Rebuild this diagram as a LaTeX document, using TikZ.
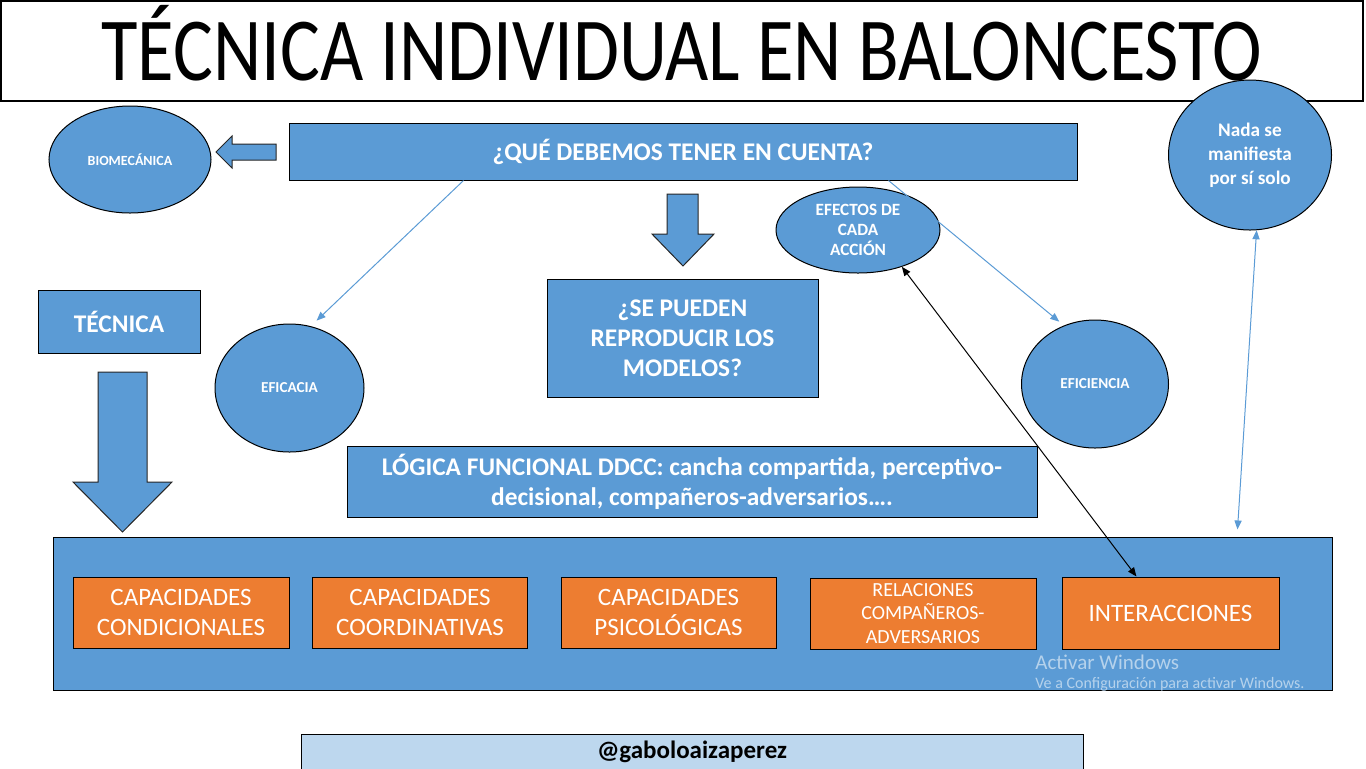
\documentclass[tikz,border=0pt]{standalone}
\usepackage{fontspec}
\setmainfont{Carlito}
\newfontfamily\titlefont{Carlito}[FakeStretch=0.83]
\usepackage{xcolor}
\definecolor{slideBlue}{HTML}{5B9BD5}
\definecolor{slideOrange}{HTML}{ED7D31}
\definecolor{paleBlue}{HTML}{BDD7EE}
\usepackage{tikz}
\usetikzlibrary{
    shapes.geometric,
    arrows.meta,
    positioning,
    calc
}
\tikzset{
    % Base style for the blue shapes
    blue base/.style={
        fill=slideBlue,
        draw=black,
        line width=0.5pt,
        text=white,
        align=center,
        inner sep=0pt,
        font=\bfseries\fontsize{12.7}{15}\selectfont,
    },
    % Blue rectangles
    bluebox/.style={
        blue base,
        rectangle,
    },
    % Blue ovals
    blueoval/.style={
        blue base,
        ellipse,
    },
    % Orange boxes inside the big panel
    orangebox/.style={
        rectangle,
        fill=slideOrange,
        draw=black,
        line width=0.5pt,
        text=white,
        align=center,
        inner sep=0pt,
        minimum height=35.5pt,
        font=\fontsize{12.5}{15}\selectfont,
    },
    % Title frame
    titlebox/.style={
        rectangle,
        draw=black,
        line width=0.6pt,
        inner sep=0pt,
        font=\titlefont\fontsize{45}{45}\selectfont,
        text height=29pt,
        text depth=0pt,
    },
    % Block arrows
    blockarrow/.style={
        fill=slideBlue,
        draw=black!85,
        line width=0.5pt,
        line join=miter,
    },
    % Thin connectors
    link/.style={
        -{Triangle[length=4.5pt, width=3.6pt]},
        draw=slideBlue,
        line width=0.5pt,
    },
    link both/.style={
        link,
        {Triangle[length=4.5pt, width=3.6pt]}-{Triangle[length=4.5pt, width=3.6pt]},
    },
    % Screen watermark
    watermark/.style={
        text=white!55!slideBlue,
        inner sep=0pt,
        anchor=west,
    },
}

\begin{document}
\begin{tikzpicture}[x=0.5pt, y=-0.5pt]
    \useasboundingbox (0,0) rectangle (1366,768);

    \node (title) [titlebox, minimum width=681pt, minimum height=50pt] at (682,51) {TÉCNICA INDIVIDUAL EN BALONCESTO};

    \node (head) [bluebox, minimum width=394pt, minimum height=28.5pt] at (683,151.5) {¿QUÉ DEBEMOS TENER EN CUENTA?};
    \node (biomec) [blueoval, minimum width=81pt, minimum height=53.5pt, font=\bfseries\fontsize{7}{8}\selectfont] at (130,159.5) {BIOMECÁNICA};
    \node (efectos) [blueoval, minimum width=82pt, minimum height=43pt, font=\bfseries\fontsize{8.6}{10}\selectfont] at (858,230) {EFECTOS DE\\CADA\\ACCIÓN};
    \node (nada) [blueoval, minimum width=81.5pt, minimum height=75pt, font=\bfseries\fontsize{9.6}{12}\selectfont] at (1250,155) {Nada se\\manifiesta\\por sí solo};

    \node (tecnica) [bluebox, minimum width=81pt, minimum height=31.5pt] at (119,321.5) {TÉCNICA};
    \node (eficacia) [blueoval, minimum width=74.5pt, minimum height=64pt, font=\bfseries\fontsize{7.6}{9}\selectfont] at (289.5,388) {EFICACIA};
    \node (modelos) [bluebox, minimum width=135.5pt, minimum height=59pt] at (682.5,338) {¿SE PUEDEN\\REPRODUCIR LOS\\MODELOS?};
    \node (eficiencia) [blueoval, minimum width=73.5pt, minimum height=64pt, font=\bfseries\fontsize{7.6}{9}\selectfont] at (1095,384) {EFICIENCIA};
    \node (logica) [bluebox, minimum width=345pt, minimum height=35.5pt] at (692,481.5) {LÓGICA FUNCIONAL DDCC: cancha compartida, perceptivo-\\decisional, compañeros-adversarios\dots.};

    \node (panel) [rectangle, fill=slideBlue, draw=black, line width=0.5pt, minimum width=639.5pt, minimum height=76.5pt] at (692.5,613.5) {};
    \node (cond) [orangebox, minimum width=108pt] at (181,612.5) {CAPACIDADES\\CONDICIONALES};
    \node (coord) [orangebox, minimum width=107.5pt] at (420,612.5) {CAPACIDADES\\COORDINATIVAS};
    \node (psico) [orangebox, minimum width=107.5pt] at (668.5,612.5) {CAPACIDADES\\PSICOLÓGICAS};
    \node (relac) [orangebox, minimum width=113pt, font=\fontsize{10}{11.75}\selectfont] at (923,613.5) {RELACIONES\\COMPAÑEROS-\\ADVERSARIOS};
    \node (inter) [orangebox, minimum width=108.5pt, minimum height=36pt] at (1170.5,613) {INTERACCIONES};

    \node (wm1) [watermark, font=\fontsize{10.5}{12}\selectfont] at (1035,662) {Activar Windows};
    \node (wm2) [watermark, font=\fontsize{8}{9}\selectfont] at (1035,684) {Ve a Configuración para activar Windows.};

    \node (foot) [rectangle, fill=paleBlue, draw=black, line width=0.5pt, minimum width=391pt, minimum height=18pt, font=\bfseries\fontsize{12.5}{15}\selectfont] at (692,752) {@gaboloaizaperez};

    % block arrows
    \draw [blockarrow] (276,144) -- (232,144) -- (232,136) -- (216,152) -- (232,168) -- (232,160) -- (276,160) -- cycle;
    \draw [blockarrow] (667,194) -- (698,194) -- (698,234) -- (714,234) -- (683,266) -- (652,234) -- (667,234) -- cycle;
    \draw [blockarrow] (98,372) -- (147,372) -- (147,482) -- (172,482) -- (122.5,532) -- (73,482) -- (98,482) -- cycle;

    % connectors
    \coordinate (h1) at ($(head.south west)+(175,0)$);
    \coordinate (h2) at ($(head.south west)+(600,0)$);
    \coordinate (panelmark) at ($(panel.north east)+(-95,-7)$);
    \draw [link, shorten >=4pt] (h1) -- (eficacia.71);
    \draw [link, shorten >=3pt] (h2) -- (eficiencia.118);
    \draw [link both, draw=black] (efectos.-40) -- (inter.133);
    \draw [link both] (nada.-85) -- (panelmark);
\end{tikzpicture}
\end{document}
